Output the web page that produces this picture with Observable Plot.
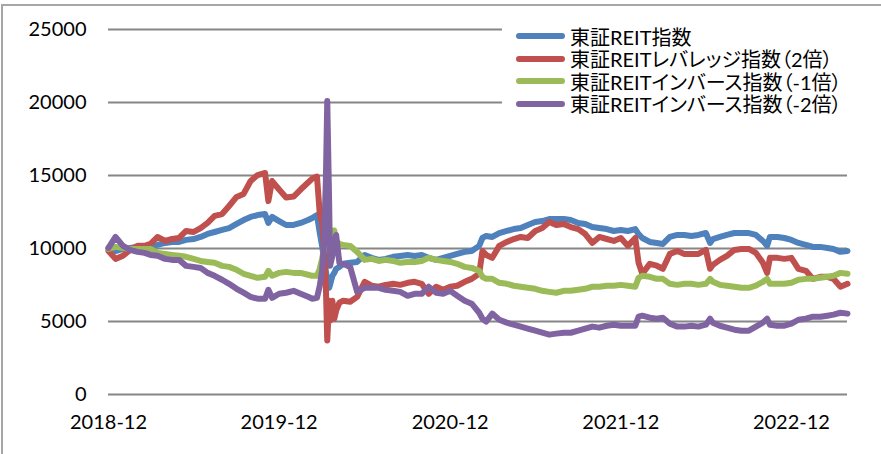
<!DOCTYPE html>
<html><head><meta charset="utf-8">
<script src="https://cdn.jsdelivr.net/npm/d3@7"></script>
<script src="https://cdn.jsdelivr.net/npm/@observablehq/plot@0.6"></script>
<style>
html,body{margin:0;padding:0;background:#fff;overflow:hidden;}
#wrap{position:relative;width:881px;height:454px;overflow:hidden;}
#frame{position:absolute;left:1px;top:4px;width:1000px;height:1000px;border:2px solid #a6a6a6;pointer-events:none;}
#chart{position:absolute;left:0;top:0;}
#legend{position:absolute;left:502px;top:24px;width:352px;height:91px;background:#fff;font-family:Lato,"Noto Sans CJK JP",sans-serif;font-size:20px;color:#000;font-feature-settings:"palt";}
.row{position:absolute;left:0;height:22px;display:flex;align-items:center;white-space:nowrap;}
.sw{display:inline-block;width:49px;height:6px;border-radius:3px;margin-left:14px;margin-right:5px;}
</style>
</head><body>
<div id="wrap"><div id="frame"></div><div id="chart"></div><div id="legend"></div></div>
<script>
const seriesNames = ["東証REIT指数","東証REITレバレッジ指数（2倍）","東証REITインバース指数（-1倍）","東証REITインバース指数（-2倍）"];
const colors = ["#4F81BD","#C0504D","#9BBB59","#8064A2"];
const yTicks = [0,5000,10000,15000,20000,25000];
const xTicks = ["2018-12","2019-12","2020-12","2021-12","2022-12"];

const dates = [
"2018-12-01","2018-12-16",
"2019-01-01","2019-01-16","2019-02-01","2019-02-16","2019-03-01","2019-03-16","2019-04-01","2019-04-16","2019-05-01","2019-05-16","2019-06-01","2019-06-16","2019-07-01","2019-07-16","2019-08-01","2019-08-16","2019-09-01","2019-09-16","2019-10-01","2019-10-16","2019-11-01","2019-11-08","2019-11-16","2019-12-01","2019-12-16",
"2020-01-01","2020-01-16","2020-02-01","2020-02-10","2020-02-20","2020-02-26","2020-03-02","2020-03-06","2020-03-10","2020-03-13","2020-03-17","2020-03-19","2020-03-24","2020-03-28","2020-04-01","2020-04-08","2020-04-16","2020-05-01","2020-05-16","2020-06-01","2020-06-16","2020-07-01","2020-07-16","2020-08-01","2020-08-16","2020-09-01","2020-09-16","2020-10-01","2020-10-16","2020-11-01","2020-11-16","2020-12-01","2020-12-16",
"2021-01-01","2021-01-16","2021-02-01","2021-02-08","2021-02-16","2021-03-01","2021-03-16","2021-04-01","2021-04-16","2021-05-01","2021-05-16","2021-06-01","2021-06-16","2021-07-01","2021-07-16","2021-08-01","2021-08-16","2021-09-01","2021-09-16","2021-10-01","2021-10-16","2021-11-01","2021-11-16","2021-12-01","2021-12-16",
"2022-01-01","2022-01-08","2022-01-16","2022-02-01","2022-02-16","2022-03-01","2022-03-16","2022-04-01","2022-04-16","2022-05-01","2022-05-16","2022-06-01","2022-06-10","2022-06-16","2022-07-01","2022-07-16","2022-08-01","2022-08-16","2022-09-01","2022-09-16","2022-10-01","2022-10-10","2022-10-16","2022-11-01","2022-11-16","2022-12-01","2022-12-16",
"2023-01-01","2023-01-16","2023-02-01","2023-02-16","2023-03-01","2023-03-16","2023-03-31"];

const reit = [
10040,9830,
9970,10040,10110,10110,10180,10250,10380,10450,10450,10590,10650,10790,11000,11130,11270,11400,11680,11950,12160,12290,12360,11750,12160,11880,11610,
11610,11750,11950,12090,12290,11060,10180,9290,8470,7790,7310,7510,8130,8330,8610,8740,8950,9020,9080,9560,9360,9220,9290,9430,9490,9560,9490,9560,9360,9220,9360,9490,9630,
9770,9830,10180,10720,10860,10790,11060,11200,11330,11400,11610,11820,11880,12020,12020,12020,11950,11750,11680,11470,11400,11330,11200,11270,11200,
11330,10990,10720,10450,10380,10310,10790,10930,10930,10860,10930,11060,10380,10650,10790,10930,11060,11060,11060,10930,10520,10180,10790,10790,10720,10590,10380,
10250,10110,10110,10040,9970,9770,9830];

const lev2 = [
9830,9290,
9500,9900,10180,10180,10310,10790,10520,10650,10720,11200,11130,11400,11750,12230,12360,12910,13530,13740,14620,15030,15170,13250,14620,14040,13490,
13560,14040,14520,14790,14930,12360,11750,9830,7450,3700,6420,5050,6420,5190,5740,6290,6420,6350,6690,7720,7450,7380,7510,7580,7510,7650,7720,7580,6900,7380,7170,7380,7450,
7720,7920,8270,9830,9560,9360,10180,10450,10650,10790,10720,11200,11400,11820,11610,11680,11470,11330,10990,10380,10790,10650,10520,10720,10180,
10720,9020,8270,8950,8820,8610,9630,9830,9630,9630,9630,9900,8610,8880,9220,9490,9900,9970,9970,9700,9020,8330,9360,9360,9290,9360,8610,
8470,7920,8060,8060,7920,7380,7580];

const inv1 = [
9970,10110,
10040,9970,9970,9970,9970,9700,9630,9560,9500,9430,9290,9150,9080,9020,8810,8740,8540,8270,8130,7990,8060,8470,8130,8330,8400,
8330,8330,8200,8130,8130,8610,9290,9970,10520,10790,10650,11030,11230,11230,10520,10310,10250,10180,9770,9220,9290,9150,9220,9150,9020,9080,9080,9150,9360,9220,9150,9080,8950,
8740,8670,8470,8060,7920,7920,7650,7580,7450,7380,7310,7240,7100,7030,6970,7100,7100,7170,7240,7380,7380,7450,7450,7510,7450,
7380,7990,8130,8060,7920,7920,7580,7510,7580,7580,7510,7580,7920,7720,7510,7450,7380,7310,7310,7450,7720,7920,7580,7580,7580,7650,7860,
7920,7920,7990,8060,8130,8330,8270];

const inv2 = [
10040,10790,
10180,9900,9770,9700,9560,9500,9290,9220,9220,8810,8740,8670,8330,8130,7860,7580,7240,6970,6690,6560,6560,7170,6620,6900,6970,
7100,6900,6690,6560,6620,7450,8470,10520,14620,20100,13250,8810,9500,10180,10930,9020,8950,8740,7030,7310,7310,7310,7170,7100,7030,6760,6900,6900,7380,6970,6900,7100,6760,
6420,6220,5600,5190,4990,5540,5120,4920,4780,4650,4510,4370,4230,4100,4170,4230,4230,4370,4510,4650,4580,4710,4780,4710,4710,
4710,5330,5400,5260,5190,5260,4850,4650,4650,4710,4650,4780,5190,4920,4710,4580,4440,4370,4370,4650,4920,5190,4780,4710,4710,4850,5120,
5190,5330,5330,5400,5470,5600,5540];

const parse = d3.utcParse("%Y-%m-%d");
const D = dates.map(parse);
const allSeries = [reit, lev2, inv1, inv2];
const table = allSeries.map((vals, k) => D.map((d, i) => ({date: d, value: vals[i], series: seriesNames[k]})));

const lineOpts = (k) => ({x: "date", y: "value", stroke: colors[k], strokeWidth: 6, strokeLinejoin: "round", strokeLinecap: "round"});

const chart = Plot.plot({
  width: 881, height: 454,
  marginLeft: 108, marginRight: 34, marginTop: 29, marginBottom: 60,
  style: {fontFamily: 'Lato, "Noto Sans CJK JP", sans-serif', fontSize: "20px", color: "#000", background: "transparent"},
  x: {type: "utc", domain: [parse("2018-12-01"), parse("2023-03-31")]},
  y: {domain: [0, 25000]},
  marks: [
    Plot.ruleY(yTicks, {stroke: "#868686", strokeWidth: 2}),
    Plot.axisY({ticks: yTicks, tickSize: 0, tickPadding: 22, tickFormat: d => String(d), fontSize: 20, label: null}),
    Plot.axisX({ticks: xTicks.map(t => parse(t + "-01")), tickSize: 0, tickPadding: 20, tickFormat: d3.utcFormat("%Y-%m"), fontSize: 20, label: null}),
    Plot.line(table[0], lineOpts(0)),
    Plot.line(table[1], lineOpts(1)),
    Plot.line(table[2], lineOpts(2)),
    Plot.line(table[3], lineOpts(3))
  ]
});
document.getElementById("chart").appendChild(chart);

const legend = document.getElementById("legend");
const rowTops = [1, 23.5, 46, 68.5];
seriesNames.forEach((name, k) => {
  const row = document.createElement("div");
  row.className = "row";
  row.style.top = rowTops[k] + "px";
  const sw = document.createElement("span");
  sw.className = "sw";
  sw.style.background = colors[k];
  const tx = document.createElement("span");
  tx.textContent = name;
  row.appendChild(sw); row.appendChild(tx);
  legend.appendChild(row);
});
</script>
</body></html>
